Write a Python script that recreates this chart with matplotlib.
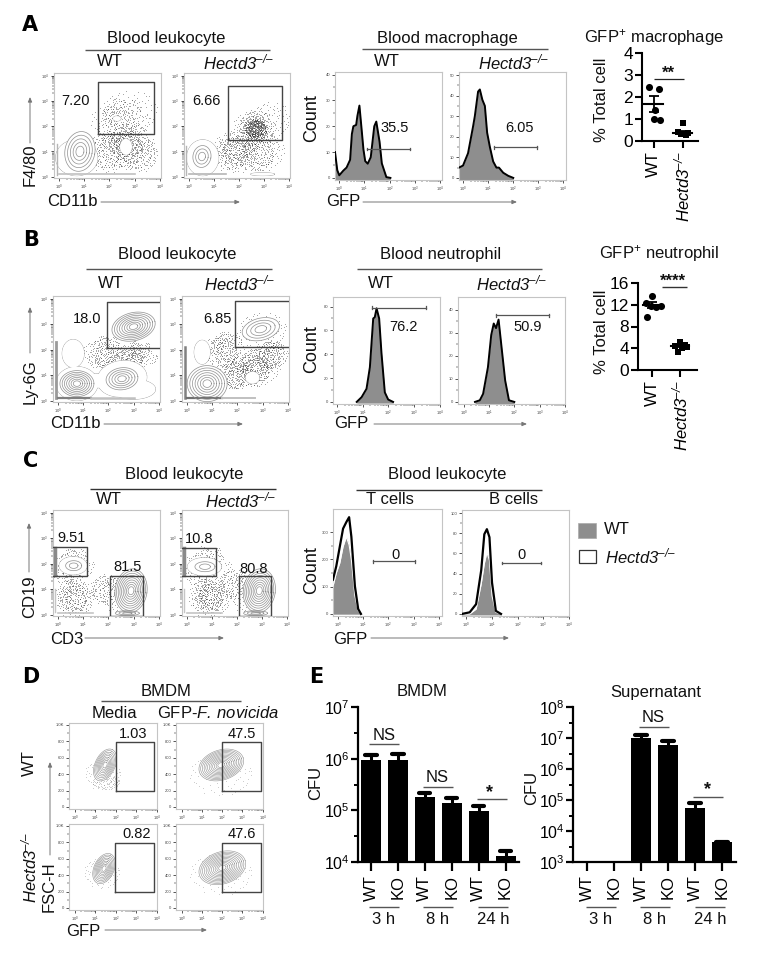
import numpy as np
import matplotlib
matplotlib.use("Agg")
import matplotlib.pyplot as plt
from matplotlib.ticker import FixedLocator, NullFormatter, LogLocator

plt.rcParams.update({
    "font.family": ["Liberation Sans", "DejaVu Sans"],
    "mathtext.fontset": "custom",
    "mathtext.rm": "Liberation Sans",
    "mathtext.it": "Liberation Sans:italic",
    "mathtext.bf": "Liberation Sans:bold",
    "mathtext.sf": "Liberation Sans:italic",
})
W, H = 774, 966
KO = r"$\mathsf{Hectd3}^{\mathsf{–/–}}$"
GREY = "#8e8e8e"
RING = "#909090"

# shared stipple texture (hand placed, unit disc)
SX = [.12,-.45,.67,-.23,.34,-.78,.05,.89,-.56,.41,-.11,.72,-.34,.58,-.67,.22,-.90,.47,-.05,.81,
      -.41,.15,-.62,.95,-.28,.63,-.83,.31,.02,-.52,.76,-.17,.49,-.71,.27,-.38,.86,-.08,.54,-.94,
      .18,-.59,.69,-.25,.38,-.75,.09,.92,-.47,.28,-.14,.61,-.86,.44,-.31,.78,-.64,.07,.52,-.20,
      .33,-.50,.84,-.12,.60,-.80,.24,-.36,.71,-.03,.43,-.69,.16,.97,-.55,.36,-.92,.55,-.18,.10]
SY = [.31,-.22,.48,.77,-.61,.09,-.88,.14,.55,.20,-.40,-.33,.28,.70,-.52,-.15,.36,-.79,.62,-.48,
      .74,.45,.02,-.06,-.72,-.12,-.37,.88,.21,-.85,.25,.05,-.27,.60,.59,-.07,-.20,-.60,.38,-.18,
      -.30,.42,.68,.33,-.92,-.41,.52,.30,.11,.12,.92,-.68,.19,-.45,-.50,.05,.66,-.17,.80,-.80,
      .40,.58,-.38,.24,.16,.44,-.55,.83,-.60,-.95,.47,-.10,.72,.16,-.62,.04,-.02,-.23,.50,-.70]

# ---- panel A flow
A_WT_GATE = (1.55, 1.69, 3.77, 3.76)
A_WT_RINGS = [(0.7,0.75,21,18,0,1),(0.83,1.0,15,20,-10,5),(2.66,1.18,6,8,0,1),(2.3,2.3,4,2.5,0,1)]
A_WT_CLOUDS = [(2.4,2.2,30,20,0,4),(2.7,1.2,28,24,0,5),(1.9,1.0,20,22,0,3),(2.8,2.6,28,22,0,1),(3.2,.9,18,18,0,2)]
A_WT_BANDS = [(-.1,.05,-.1,1.3,1.0,"#b5b5b5"),(0,.1,3,.1,1.2,"#c0c0c0")]
A_KO_GATE = (1.55, 1.45, 3.73, 3.57)
A_KO_RINGS = [(0.55,0.75,16,18,0,1),(0.52,0.8,9,11,-10,3),(2.95,.1,12,1.5,0,1)]
A_KO_CLOUDS = [(2.6,1.9,22,20,0,6),(2.7,1.9,11,10,0,3),(1.8,1.0,24,22,0,5),(2.8,1.0,26,20,0,4),(3.3,2.3,20,18,0,1)]
A_KO_BANDS = [(-.1,.05,-.1,1.2,1.0,"#b5b5b5"),(0,.1,1.5,.1,1.2,"#b5b5b5")]
# ---- panel B flow
B_WT_GATE = (1.94, 2.08, 4.3, 3.88)
B_WT_RINGS = [(.6,1.85,11,14,0,1),(.75,.67,21,17,0,1),(2.54,.86,25,18,8,1),(1.6,.78,18,7,0,1),(3.0,.45,22,10,0,1),
              (.75,.67,17,13,0,7),(2.54,.86,16,11,8,5),(3.0,2.9,22,14,14,8)]
B_WT_CLOUDS = [(1.8,1.9,22,14,0,3),(3.1,1.7,22,9,0,3),(2.4,1.6,25,10,0,2)]
B_WT_BANDS = [(-.08,.1,-.08,2.3,2.0,"#9a9a9a"),(0,.1,1.3,.1,1.6,"#808080"),(1.3,.1,3.0,.1,1.8,"#c0c0c0")]
B_KO_GATE = (1.9, 2.1, 4.3, 3.9)
B_KO_RINGS = [(.6,1.9,8,12,0,1),(.8,.67,20,18,0,7),(2.6,.9,7,6,0,1),(2.93,2.8,19,11,14,4)]
B_KO_CLOUDS = [(1.5,2.0,24,16,0,4),(2.7,1.3,26,18,0,5),(1.9,1.0,18,14,0,3),(3.3,1.8,18,14,0,3),(3.0,2.8,24,18,0,1)]
B_KO_BANDS = [(-.08,.1,-.08,2.1,1.8,"#808080"),(0,.1,1.4,.1,1.6,"#707070"),(1.4,.1,2.7,.1,1.4,"#c0c0c0")]
# ---- panel C flow
C_WT_GATES = [(-.3,1.53,1.15,2.67),(2.06,-.05,3.37,1.53)]
C_WT_RINGS = [(.6,1.92,14,9,0,1),(.62,1.92,8,5,0,2),(2.9,.94,16,22,-8,9),(2.75,.06,12,2.5,0,3)]
C_WT_CLOUDS = [(.5,1.9,24,14,0,3),(.63,.67,20,20,0,4),(1.9,1.0,16,16,0,2),(2.3,.8,14,18,0,1)]
C_WT_BANDS = [(-.12,1.55,-.12,2.6,2.5,"#8a8a8a"),(-.12,.1,-.12,1.0,1.0,"#c5c5c5"),(0,.08,1.4,.08,1.2,"#c5c5c5")]
C_KO_GATES = [(-.3,1.5,1.17,2.63),(2.07,-.05,3.36,1.53)]
C_KO_RINGS = [(.7,1.88,17,9,0,1),(.72,1.88,10,5,0,2),(2.9,.94,16,22,-8,9),(2.75,.06,12,2.5,0,3)]
C_KO_CLOUDS = [(.7,1.9,27,14,0,3),(.9,.7,22,21,0,5),(1.9,1.2,16,16,0,2),(2.3,.8,14,18,0,1)]
C_KO_BANDS = [(-.12,1.55,-.12,2.6,2.5,"#8a8a8a"),(-.12,.1,-.12,1.0,1.0,"#c5c5c5"),(0,.08,1.4,.08,1.2,"#c5c5c5")]
# ---- panel D flow
D_GATES = [(2.01,195,3.87,793),(2.0,195,3.9,793),(1.98,195,3.87,793),(2.0,195,3.93,793)]
D_RINGS = [[(1.47,512,17,10,65,9)],[(1.95,512,23,15,18,12)],[(1.42,480,16,10,65,9)],[(2.0,490,24,16,18,12)]]
D_CLOUDS = [[(1.35,400,18,16,0,1),(1.5,300,14,7,0,1)],[(1.9,400,32,22,0,1)],
            [(1.3,430,18,16,0,1)],[(1.9,420,32,22,0,1)]]

# ---- histograms (x in decades, y in counts)
HA1_X = [-.17,-.08,0,.16,.29,.43,.5,.56,.67,.72,.8,.89,.96,1.03,1.13,1.25,1.32,1.39,1.47,1.6,1.69,1.87,2.03]
HA1_Y = [10,3,1,2.8,4,7,17,20,20.5,24,28,18.5,11,6.5,5.5,8,14,20,21.8,14,5.6,.3,0]
HA2_X = [-.16,0,.2,.4,.47,.6,.67,.77,.87,.96,1.07,1.2,1.33,1.43,1.6,1.8,2]
HA2_Y = [5,6,12,25,30,42,43,38,35,22,15,8,5,5,2.5,1,0]
HB1_X = [.77,.96,1.15,1.28,1.41,1.47,1.54,1.64,1.73,1.86,1.99,2.18]
HB1_Y = [0,4,11,29,70,71,78.5,70,41,8,2,0]
HB2_X = [.45,.64,.77,.96,1.09,1.19,1.28,1.38,1.5,1.64,1.79,2]
HB2_Y = [0,.7,3.5,15,29,34,32,35.7,23.5,9.3,.7,0]
HC1_X = [-.2,-.07,.07,.2,.33,.44,.53,.67,.8,.91]
HC1_WT = [102,150,187,247,283,253,199,66,12,0]
HC1_KO = [126,175,247,313,337,355,283,102,18,0]
HC2_X = [-.17,.13,.38,.58,.7,.8,.9,1,1.15,1.35]
HC2_WT = [0,0,4.8,30,50,61,53,18,1.6,0]
HC2_KO = [0,1.6,9.7,43.5,79,84,76,31,3,0]

# ---- dot plots
DA_WT_X = [-.16,.17,.03,-.01,.2];  DA_WT = [2.45,2.36,1.42,1.0,.97]
DA_KO_X = [0,-.18,.18,-.08,.1,0];  DA_KO = [.8,.4,.38,.3,.28,.34]
DB_WT_X = [0,-.2,.14,.33,-.17,-.02]; DB_WT = [13.7,12.3,11.6,11.7,9.7,11.8]
DB_KO_X = [0,-.18,.18,-.06,.05,.23]; DB_KO = [5.2,4.4,4.6,3.4,4.0,4.3]
DA_STATS = [(1.68,.35),(.37,.1)]
DB_STATS = [(11.9,.55),(4.5,.3)]

# ---- panel E bars
E_CATS = ["WT","KO","WT","KO","WT","KO"]
E_BMDM = [9.5e5,9.5e5,1.8e5,1.37e5,9.5e4,1.3e4]
E_BMDM_TOP = [1.16e6,1.22e6,2.2e5,1.77e5,1.23e5,1.6e4]
E_SUP = [1e3,1e3,1e7,5.8e6,5.6e4,4.4e3]
E_SUP_TOP = [1e3,1e3,1.27e7,7.8e6,7.9e4,4.5e3]

fig = plt.figure(figsize=(W/100, H/100), dpi=100)

def axpx(x0, y0, x1, y1):
    return fig.add_axes([x0/W, 1-y1/H, (x1-x0)/W, (y1-y0)/H])

bg = fig.add_axes([0,0,1,1], zorder=20)
bg.set_xlim(0,W); bg.set_ylim(H,0); bg.axis("off"); bg.patch.set_alpha(0)

def T(x, y, s, size=12, **k):
    k.setdefault("ha","center"); k.setdefault("va","center")
    bg.text(x, y, s, fontsize=size, color=k.pop("color","#111111"), **k)

def L(x0, y0, x1, y1, c="#555555", lw=1.0):
    bg.plot([x0,x1],[y0,y1],color=c,lw=lw,solid_capstyle="butt")

def ARW(x0, y0, x1, y1):
    bg.annotate("",xy=(x1,y1),xytext=(x0,y0),
                arrowprops=dict(arrowstyle="-|>,head_width=0.12,head_length=0.28",color="#777777",lw=.7,shrinkA=0,shrinkB=0))

DEC_MINOR = [k+np.log10(m) for k in range(0,4) for m in range(2,10)]

def style_flow(ax, yticks=None, ylabels=None):
    ax.patch.set_facecolor("white")
    for s in ("top","right","left","bottom"):
        ax.spines[s].set_color("#c4c4c4"); ax.spines[s].set_linewidth(.8)
    ax.set_xticks(range(5)); ax.set_xticklabels([r"$10^{%d}$"%i for i in range(5)])
    ax.xaxis.set_minor_locator(FixedLocator(DEC_MINOR))
    if yticks is None:
        ax.set_yticks(range(5)); ax.set_yticklabels([r"$10^{%d}$"%i for i in range(5)])
        ax.yaxis.set_minor_locator(FixedLocator(DEC_MINOR))
    else:
        ax.set_yticks(yticks); ax.set_yticklabels(ylabels)
        ax.yaxis.set_minor_locator(FixedLocator([(a+b)/2 for a,b in zip(yticks[:-1],yticks[1:])]))
    ax.tick_params(which="major",length=2.5,width=.5,labelsize=3,pad=.8,color="#111111",labelcolor="#444444")
    ax.tick_params(which="minor",length=1.2,width=.35,color="#111111")

def flow(box, gates, rings, clouds, bands=(), xlim=(-.2,4.05), ylim=(-.05,4.1), yt=None, yl=None, dot=.28, dot_alpha=.55, ring_lw=.5):
    ax = axpx(*box)
    ax.set_xlim(*xlim); ax.set_ylim(*ylim)
    sx = (box[2]-box[0])/(xlim[1]-xlim[0]); sy = (box[3]-box[1])/(ylim[1]-ylim[0])
    for cx,cy,rx,ry,ang,layers in clouds:
        for j in range(layers):
            th = np.radians(ang+47*j); f = 1-.12*j
            dx = np.array(SX)*rx*f; dy = np.array(SY)*ry*f
            ax.scatter(cx+(dx*np.cos(th)-dy*np.sin(th))/sx,
                       cy+(dx*np.sin(th)+dy*np.cos(th))/sy, s=dot, c="#2a2a2a", lw=0, alpha=dot_alpha, zorder=2)
    t = np.linspace(0,2*np.pi,80)
    def ell(cx,cy,rx,ry,ang,f):
        a = np.radians(ang)
        ex,ey = rx*f*np.cos(t), ry*f*np.sin(t)
        return cx+(ex*np.cos(a)-ey*np.sin(a))/sx, cy+(ex*np.sin(a)+ey*np.cos(a))/sy
    # silhouettes (n == 1) merge into one outline
    sil = [r for r in rings if r[5]==1]
    for cx,cy,rx,ry,ang,n in sil:
        xs,ys = ell(cx,cy,rx,ry,ang,1)
        ax.plot(xs,ys,color=RING,lw=ring_lw,zorder=3)
    for cx,cy,rx,ry,ang,n in sil:
        xs,ys = ell(cx,cy,rx,ry,ang,1)
        ax.fill(xs,ys,color="white",lw=0,zorder=3.2)
    for cx,cy,rx,ry,ang,n in rings:
        if n==1:
            continue
        for i in range(n):
            xs,ys = ell(cx,cy,rx,ry,ang,1-i/n*.92)
            if i==0:
                ax.fill(xs,ys,color="white",lw=0,zorder=3.4)
            ax.plot(xs,ys,color=RING,lw=ring_lw,zorder=4)
    for x0,y0,x1,y1,lw,c in bands:
        ax.plot([x0,x1],[y0,y1],color=c,lw=lw,zorder=3.5)
    for x0,y0,x1,y1 in gates:
        ax.plot([x0,x1,x1,x0,x0],[y0,y0,y1,y1,y0],color="#444444",lw=1.0,zorder=5)
    style_flow(ax,yt,yl)
    return ax

def hist(box, x, y, ymax, yticks, gate, xlim, y2=None):
    ax = axpx(*box)
    ax.set_xlim(*xlim); ax.set_ylim(-ymax*.02,ymax)
    ax.fill_between(x,y,-1,color=GREY,lw=0,zorder=2)
    if y2 is not None:
        ax.plot(x,y,color="white",lw=.8,zorder=3)
        ax.plot(x,y2,color="black",lw=1.6,zorder=4)
    else:
        ax.plot(x,y,color="black",lw=1.4,zorder=4)
    gx0,gx1,gy = gate
    ax.plot([gx0,gx1],[gy,gy],color="#555555",lw=.9,zorder=5)
    for g in (gx0,gx1):
        ax.plot([g,g],[gy-ymax*.012,gy+ymax*.012],color="#555555",lw=.9,zorder=5)
    style_flow(ax,yticks,[str(v) for v in yticks])
    return ax

def dots(box, xlim, ylim, yticks, wt_x, wt, ko_x, ko, stats):
    ax = axpx(*box)
    ax.set_xlim(*xlim); ax.set_ylim(*ylim)
    ax.scatter(wt_x, wt, s=26, c="k", marker="o", lw=0, clip_on=False, zorder=3)
    ax.scatter([1+v for v in ko_x], ko, s=24, c="k", marker="s", lw=0, clip_on=False, zorder=3)
    for i,(m,e) in enumerate(stats):
        ax.plot([i-.33,i+.33],[m,m],color="k",lw=1.5,zorder=4)
        ax.errorbar(i,m,yerr=e,color="k",lw=1.3,capsize=3.5,capthick=1.3,zorder=4)
    for s in ("top","right"):
        ax.spines[s].set_visible(False)
    for s in ("left","bottom"):
        ax.spines[s].set_linewidth(1.5)
    ax.set_yticks(yticks); ax.set_xticks([0,1]); ax.set_xticklabels(["WT",KO],rotation=90)
    ax.tick_params(length=5,width=1.5,labelsize=12.5,pad=1.5)
    ax.tick_params(axis="x",labelsize=12,pad=2)
    ax.patch.set_alpha(0)
    return ax

# --- A
for x,y,s in [(30,25,"A"),(31,240,"B"),(31,461,"C"),(31,677,"D"),(316,677,"E")]:
    T(x,y,s,size=15,family="DejaVu Sans",fontweight="bold",color="black")

flow((54,73,161,178),[A_WT_GATE],A_WT_RINGS,A_WT_CLOUDS,A_WT_BANDS)
flow((184,73,290,178),[A_KO_GATE],A_KO_RINGS,A_KO_CLOUDS,A_KO_BANDS)
T(166,38,"Blood leukocyte"); L(85,50,270,50)
T(110,62,"WT"); T(239,62,KO)
T(75,101,"7.20",10.5); T(206,101,"6.66",10.5)
T(30,165,"F4/80",rotation=90); ARW(30,143,30,97)
T(72,202,"CD11b"); ARW(101,202,240,202)

hist((335,72,442,180),HA1_X,HA1_Y,41,[0,10,20,30,40],(1.12,2.8,11.2),(-.17,4.08))
hist((459,72,566,180),HA2_X,HA2_Y,51.5,[0,10,20,30,40,50],(1.24,2.93,14.8),(-.16,4.1))
T(447,38,"Blood macrophage"); L(362,49,548,49)
T(387,62,"WT"); T(514,62,KO)
T(395,128,"35.5",10.5); T(520,128,"6.05",10.5)
T(312,118,"Count",13,rotation=90); T(343,202,"GFP"); ARW(363,202,517,202)

dots((642,53,698,141),(-.41,1.52),(0,4),[0,1,2,3,4],DA_WT_X,DA_WT,DA_KO_X,DA_KO,DA_STATS)
T(654,38,r"GFP$^{+}$ macrophage")
T(602,100,"% Total cell",rotation=90)
L(654,79,684,79,"#222222",.9); T(668,73,"**",12,fontweight="bold")

# --- B
flow((53,296,160,402),[B_WT_GATE],B_WT_RINGS,B_WT_CLOUDS,B_WT_BANDS)
flow((182,296,289,402),[B_KO_GATE],B_KO_RINGS,B_KO_CLOUDS,B_KO_BANDS)
T(177,254,"Blood leukocyte"); L(86,269,272,269)
T(111,283,"WT"); T(240,283,KO)
T(87,319,"18.0",10.5); T(217,319,"6.85",10.5)
T(30,382,"Ly-6G",rotation=90); ARW(30,353,30,307)
T(75,424,"CD11b"); ARW(104,424,243,424)

hist((333,297,440,404),HB1_X,HB1_Y,88,[0,20,40,60,80],(1.38,3.44,79),(-.15,3.99))
hist((458,297,565,404),HB2_X,HB2_Y,45.5,[0,10,20,30,40],(1.28,3.36,37.5),(-.22,3.92))
T(441,254,"Blood neutrophil"); L(357,269,542,269)
T(381,283,"WT"); T(512,283,KO)
T(403,327,"76.2",10.5); T(528,327,"50.9",10.5)
T(312,349,"Count",13,rotation=90); T(351,424,"GFP"); ARW(374,424,527,424)

dots((638,283,697,370),(-.5,1.6),(0,16),[0,4,8,12,16],DB_WT_X,DB_WT,DB_KO_X,DB_KO,DB_STATS)
T(659,254,r"GFP$^{+}$ neutrophil")
T(602,332,"% Total cell",rotation=90)
L(662,287,687,287,"#333333",1.0); T(673,281,"****",12,fontweight="bold")

# --- C
flow((53,510,160,616),C_WT_GATES,C_WT_RINGS,C_WT_CLOUDS,C_WT_BANDS)
flow((182,510,288,616),C_KO_GATES,C_KO_RINGS,C_KO_CLOUDS,C_KO_BANDS)
T(184,475,"Blood leukocyte"); L(90,489,276,489,"#333333")
T(109,500,"WT"); T(241,500,KO)
T(72,538,"9.51",10.5); T(128,567,"81.5",10.5); T(199,539,"10.8",10.5); T(254,569,"80.8",10.5)
T(30,597,"CD19",rotation=90); ARW(29,572,29,523)
T(67,639,"CD3"); ARW(85,638,224,638)

hist((333,509,442,616),HC1_X,HC1_WT,385,[0,100,200,300],(1.4,3.04,193),(-.2,4.13),y2=HC1_KO)
hist((462,510,569,616),HC2_X,HC2_WT,103,[0,20,40,60,80,100],(1.37,2.91,50.6),(-.17,3.95),y2=HC2_KO)
T(447,475,"Blood leukocyte"); L(356,490,542,490,"#333333")
T(390,500,"T cells"); T(514,500,"B cells")
T(395,555,"0",10.5); T(521,555,"0",10.5)
T(312,570,"Count",13,rotation=90); T(350,639,"GFP"); ARW(371,638,509,638)
bg.fill([578,596,596,578],[523,523,538,538],color=GREY,ec="#aaaaaa",lw=.5)
bg.fill([579,596,596,579],[550,550,563,563],fc="white",ec="#333333",lw=.9)
T(604,530,"WT",ha="left"); T(605,556,KO,ha="left")

# --- D
D_BOX = [(69,723,157,809),(176,723,263,809),(69,824,157,910),(176,824,263,910)]
D_XLIM = (-.3,4.02); D_YLIM = (-25,1024)
D_YT = [0,200,400,600,800,1000]; D_YL = ["0","200","400","600","800","1.0K"]
for b,g,r,c in zip(D_BOX,D_GATES,D_RINGS,D_CLOUDS):
    flow(b,[g],r,c,(),xlim=D_XLIM,ylim=D_YLIM,yt=D_YT,yl=D_YL,dot=.2,dot_alpha=.4,ring_lw=.4)
T(166,692,"BMDM"); L(101,701,241,701)
T(114,713,"Media"); T(218,713,r"GFP-$\mathsf{F.\/novicida}$")
T(133,734,"1.03",10.5); T(242,734,"47.5",10.5); T(137,834,"0.82",10.5); T(242,834,"47.6",10.5)
T(29,763,"WT",rotation=90); T(29,867,KO,rotation=90)
T(49,887,"FSC-H",rotation=90); ARW(50,855,50,762)
T(83,931,"GFP"); ARW(105,930,207,930)

# --- E
def bars(box, xlim, ylim, vals, tops):
    ax = axpx(*box)
    ax.set_yscale("log"); ax.set_xlim(*xlim); ax.set_ylim(*ylim)
    x = np.arange(6)
    ax.bar(x, [v-ylim[0] for v in vals], width=.74, color="k", bottom=ylim[0])
    for xi,v,t in zip(x,vals,tops):
        if t>v:
            ax.plot([xi,xi],[v,t],color="k",lw=2.2,zorder=3)
            ax.plot([xi-.21,xi+.21],[t,t],color="k",lw=3,solid_capstyle="round",zorder=3)
    for s in ("top","right"):
        ax.spines[s].set_visible(False)
    for s in ("left","bottom"):
        ax.spines[s].set_linewidth(1.6)
    ax.set_xticks(x); ax.set_xticklabels(E_CATS,rotation=90)
    ax.yaxis.set_major_locator(LogLocator(base=10,numticks=10))
    ax.yaxis.set_minor_locator(FixedLocator([10**(k+.5) for k in range(3,8)]))
    ax.yaxis.set_minor_formatter(NullFormatter())
    ax.tick_params(which="major",length=5,width=1.6,labelsize=11.5,pad=1)
    ax.tick_params(which="minor",length=3,width=1.4)
    ax.tick_params(axis="x",length=6.5,labelsize=12,pad=3)
    ax.patch.set_alpha(0)
    return ax

bars((358,707,519,862),(-.48,5.5),(1e4,1e7),E_BMDM,E_BMDM_TOP)
bars((573,707,736,862),(-.52,5.52),(1e3,1e8),E_SUP,E_SUP_TOP)
T(422,692,"BMDM"); T(656,692,"Supernatant")
T(316,783,"CFU",rotation=90); T(532,788,"CFU",rotation=90)
T(384,735,"NS"); L(369,744,399,744)
T(437,778,"NS"); L(423,787,453,787)
T(490,793,"*",13,fontweight="bold"); L(477,799,507,799)
T(653,718,"NS"); L(639,727,669,727)
T(707,790,"*",13,fontweight="bold"); L(693,797,723,797)
for x0,x1,lab in [(369,399,"3 h"),(423,453,"8 h"),(478,508,"24 h"),(586,616,"3 h"),(640,670,"8 h"),(695,725,"24 h")]:
    L(x0,907,x1,907); T((x0+x1)/2,920,lab)

fig.savefig("out.png",dpi=100)
